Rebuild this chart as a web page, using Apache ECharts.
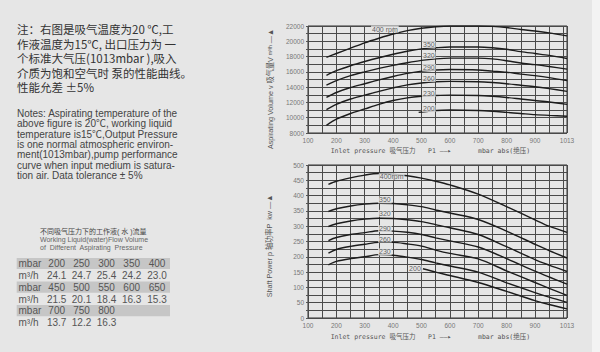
<!DOCTYPE html>
<html><head><meta charset="utf-8">
<script src="https://cdn.jsdelivr.net/npm/echarts@6/dist/echarts.min.js"></script>
<style>html,body{margin:0;padding:0;background:#e6e6e6}#c{width:600px;height:352px}</style>
</head><body><div id="c"></div>
<script>
// ---------- data ----------
const speedLabels = ['400 rpm', '350', '320', '290', '260', '230', '200'];
const powerSpeedLabels = ['400rpm', '350', '320', '290', '260', '230', '200'];

// Aspirating volume (m3/h) vs inlet pressure (mbar)
const volumeX = [165, 200, 250, 300, 350, 400, 450, 500, 550, 600, 700, 750, 800, 850, 900, 950, 1013];
const volume400 = [17900, 18400, 19100, 19800, 20400, 20950, 21400, 21700, 21900, 22000, 22000, 21950, 21800, 21550, 21350, 21100, 20700];
const volume350 = [15550, 16150, 16800, 17350, 17850, 18300, 18700, 19000, 19150, 19250, 19250, 19150, 18950, 18650, 18400, 18150, 17750];
const volume320 = [14250, 14850, 15500, 16000, 16450, 16850, 17200, 17500, 17700, 17800, 17800, 17700, 17450, 17150, 16950, 16700, 16350];
const volume290 = [12650, 13300, 13950, 14450, 14950, 15400, 15800, 16100, 16250, 16300, 16250, 16100, 15950, 15700, 15500, 15250, 14850];
const volume260 = [11050, 11750, 12450, 12950, 13450, 13900, 14300, 14550, 14700, 14750, 14700, 14600, 14450, 14250, 14050, 13800, 13450];
const volume230 = [9000, 9800, 10550, 11150, 11750, 12250, 12600, 12800, 12900, 12950, 12900, 12800, 12650, 12450, 12250, 12050, 11750];
const volume200X = [490, 525, 600, 700, 750, 800, 850, 900, 950, 1013];
const volume200 = [10700, 10850, 11000, 10950, 10850, 10700, 10550, 10400, 10300, 10200];

// Shaft power (kW) vs inlet pressure (mbar)
const powerX = [172, 200, 250, 300, 350, 400, 450, 500, 550, 600, 700, 800, 900, 950, 1013];
const power400 = [437, 447, 458, 467, 472, 470, 465, 457, 447, 435, 405, 364, 321, 300, 280];
const power350 = [348, 357, 366, 372, 375, 374, 370, 364, 353, 343, 322, 284, 241, 220, 196];
const power320 = [299, 308, 317, 323, 326, 325, 321, 315, 305, 295, 273, 233, 191, 173, 152];
const power290 = [253, 263, 273, 279, 285, 284, 280, 273, 262, 252, 232, 194, 153, 134, 111];
const power260 = [212, 224, 234, 241, 247, 247, 242, 235, 222, 211, 193, 154, 116, 97, 74];
const power230 = [174, 185, 194, 200, 207, 205, 199, 191, 180, 170, 150, 115, 83, 68, 51];
const power200X = [505, 550, 600, 700, 800, 900, 950, 1013];
const power200 = [161, 150, 139, 116, 87, 57, 44, 30];

// Label anchor points (data units)
const volumeLabelAt = [[371, 21600], [526, 19600], [526, 18200], [526, 16580], [526, 15140], [526, 13170], [526, 11200]];
const powerLabelAt = [[395, 462], [371, 386], [371, 342], [371, 292], [371, 258], [371, 216], [477, 161]];

// Text
const noteCN = ['注：右图是吸气温度为20 ℃,工', '作液温度为15℃, 出口压力为 一', '个标准大气压(1013mbar ),吸入', '介质为饱和空气时 泵的性能曲线。', '性能允差 ±5%'];
const noteEN = ['Notes: Aspirating temperature of the', 'above figure is 20℃, working liquid', 'temperature is15℃,Output Pressure', 'is one normal atmospheric environ-', 'ment(1013mbar),pump performance', 'curve when input medium is satura-', 'tion air. Data tolerance ± 5%'];
const tableTitle = ['不同吸气压力下的工作液( 水 )流量', 'Working Liquid(water)Flow Volume', 'of  Different  Aspirating  Pressure'];
const tablePressure = [['200', '250', '300', '350', '400'], ['450', '500', '550', '600', '650'], ['700', '750', '800']];
const tableFlow = [['24.1', '24.7', '25.4', '24.2', '23.0'], ['21.5', '20.1', '18.4', '16.3', '15.3'], ['13.7', '12.2', '16.3']];

// ---------- chart ----------
const BG = '#e6e6e6';
const chart = echarts.init(document.getElementById('c'), null, { renderer: 'svg', width: 600, height: 352 });

function xAxisDef(gi) {
  return {
    type: 'value', gridIndex: gi, min: 100, max: 1013, interval: 50,
    axisLine: { show: false }, axisTick: { show: false },
    splitLine: { show: true, lineStyle: { color: '#4a4a4a', width: 1 } },
    axisLabel: {
      fontSize: 6.5, color: '#777', margin: 4, fontFamily: 'Liberation Sans',
      showMinLabel: true, showMaxLabel: true, hideOverlap: false,
      formatter: v => ((v % 100 === 0 && v !== 1000) || v === 1013) ? String(v) : ''
    }
  };
}
function yAxisDef(gi, min, max, step, labelStep) {
  return {
    type: 'value', gridIndex: gi, min: min, max: max, interval: step,
    axisLine: { show: false },
    axisTick: { show: true, length: 2, lineStyle: { color: '#555' } },
    splitLine: { show: true, lineStyle: { color: '#4a4a4a', width: 1 } },
    axisLabel: {
      fontSize: 6.5, color: '#777', margin: 4, fontFamily: 'Liberation Sans',
      showMinLabel: true, showMaxLabel: true,
      formatter: v => (v % labelStep === 0) ? String(v) : ''
    }
  };
}
function lineSeries(gi, xs, ys) {
  return {
    type: 'line', xAxisIndex: gi, yAxisIndex: gi, smooth: 0.3, symbol: 'none', silent: true,
    color: '#1c1c1c',
    data: xs.map((x, i) => [x, ys[i]]),
    lineStyle: { color: '#1c1c1c', width: 1.4 }
  };
}
function labelSeries(gi, names, at) {
  return {
    type: 'scatter', xAxisIndex: gi, yAxisIndex: gi, symbolSize: 0, silent: true, z: 5,
    itemStyle: { color: '#444' },
    data: at.map((p, i) => ({ value: p, name: names[i] })),
    label: {
      show: true, position: 'inside', formatter: p => p.name, fontSize: 7, color: '#3a3a3a',
      textBorderWidth: 0, fontFamily: 'Liberation Sans', backgroundColor: BG, padding: [0, 1]
    }
  };
}

const volumeSets = [[volumeX, volume400], [volumeX, volume350], [volumeX, volume320], [volumeX, volume290], [volumeX, volume260], [volumeX, volume230], [volume200X, volume200]];
const powerSets = [[powerX, power400], [powerX, power350], [powerX, power320], [powerX, power290], [powerX, power260], [powerX, power230], [power200X, power200]];

const series = [];
volumeSets.forEach(s => series.push(lineSeries(0, s[0], s[1])));
powerSets.forEach(s => series.push(lineSeries(1, s[0], s[1])));
series.push(labelSeries(0, speedLabels, volumeLabelAt));
series.push(labelSeries(1, powerSpeedLabels, powerLabelAt));

// ---------- graphic texts ----------
const graphic = [];
graphic.push({ type: 'rect', shape: { x: 592, y: 0, width: 8, height: 352 }, style: { fill: '#f3f3f3' }, silent: true });

noteCN.forEach((t, i) => graphic.push({
  type: 'text', x: 17, y: 29 + i * 14.6,
  style: { text: t, fill: '#333', fontSize: 11.5, fontFamily: 'Noto Sans CJK SC', verticalAlign: 'middle', align: 'left' }
}));
noteEN.forEach((t, i) => graphic.push({
  type: 'text', x: 17, y: 113.5 + i * 10.35,
  style: { text: t, fill: '#444', fontSize: 10, fontFamily: 'Liberation Sans, Noto Sans CJK SC', verticalAlign: 'middle', align: 'left' }
}));
tableTitle.forEach((t, i) => graphic.push({
  type: 'text', x: 40, y: 231.5 + i * 8,
  style: { text: t, fill: i === 0 ? '#444' : '#666', fontSize: 7, fontFamily: 'Liberation Sans, Noto Sans CJK SC', verticalAlign: 'middle', align: 'left' }
}));
const colX = [56.7, 81.5, 106.5, 131.7, 157];
tablePressure.forEach((row, r) => {
  const yP = 263.5 + r * 23.6, yF = yP + 12;
  graphic.push({ type: 'rect', shape: { x: 16.7, y: yP - 5.6, width: 153.3, height: 11.2 }, style: { fill: '#c6c6c6' }, silent: true });
  graphic.push({ type: 'text', x: 18.5, y: yP, style: { text: 'mbar', fill: '#555', fontSize: 10, fontFamily: 'Liberation Sans', verticalAlign: 'middle', align: 'left' } });
  graphic.push({ type: 'text', x: 18.5, y: yF, style: { text: 'm³/h', fill: '#555', fontSize: 10, fontFamily: 'Liberation Sans', verticalAlign: 'middle', align: 'left' } });
  row.forEach((v, c) => graphic.push({ type: 'text', x: colX[c], y: yP, style: { text: v, fill: '#555', fontSize: 10, fontFamily: 'Liberation Sans', verticalAlign: 'middle', align: 'center' } }));
  tableFlow[r].forEach((v, c) => graphic.push({ type: 'text', x: colX[c], y: yF, style: { text: v, fill: '#555', fontSize: 10, fontFamily: 'Liberation Sans', verticalAlign: 'middle', align: 'center' } }));
});

// axis titles
[150.5, 336.7].forEach(yy => {
  graphic.push({ type: 'text', x: 330.7, y: yy, style: { text: 'Inlet pressure 吸气压力', fill: '#555', fontSize: 6.5, fontFamily: 'DejaVu Sans Mono, Noto Sans CJK SC', verticalAlign: 'middle', align: 'left' } });
  graphic.push({ type: 'text', x: 428, y: yy, style: { text: 'P1 ——▸', fill: '#555', fontSize: 6.5, fontFamily: 'DejaVu Sans Mono, Noto Sans CJK SC', verticalAlign: 'middle', align: 'left' } });
  graphic.push({ type: 'text', x: 478, y: yy, style: { text: 'mbar abs(绝压)', fill: '#555', fontSize: 6.5, fontFamily: 'DejaVu Sans Mono, Noto Sans CJK SC', verticalAlign: 'middle', align: 'left' } });
});
graphic.push({
  type: 'text', x: 270, y: 89, rotation: Math.PI / 2, scaleX: 0.9,
  style: {
    text: 'Aspirating Volume v 吸气量V {s|m³/h} —▲', fill: '#555', fontSize: 8, fontFamily: 'Liberation Sans, Noto Sans CJK SC',
    verticalAlign: 'middle', align: 'center', rich: { s: { fontSize: 5.5, fill: '#555', fontFamily: 'Liberation Sans' } }
  }
});
graphic.push({
  type: 'text', x: 269, y: 246, rotation: Math.PI / 2, scaleX: 0.9,
  style: { text: 'Shaft Power p 轴功率P  kw —▲', fill: '#555', fontSize: 8, fontFamily: 'Liberation Sans, Noto Sans CJK SC', verticalAlign: 'middle', align: 'center' }
});

chart.setOption({
  backgroundColor: BG,
  animation: false,
  grid: [
    { left: 308, top: 26, width: 259, height: 107, show: true, borderColor: '#333', borderWidth: 1, backgroundColor: 'rgba(0,0,0,0)' },
    { left: 308, top: 165, width: 259, height: 153, show: true, borderColor: '#333', borderWidth: 1, backgroundColor: 'rgba(0,0,0,0)' }
  ],
  xAxis: [xAxisDef(0), xAxisDef(1)],
  yAxis: [yAxisDef(0, 8000, 22000, 1000, 2000), yAxisDef(1, 0, 500, 25, 50)],
  series: series,
  graphic: graphic
});
</script></body></html>
